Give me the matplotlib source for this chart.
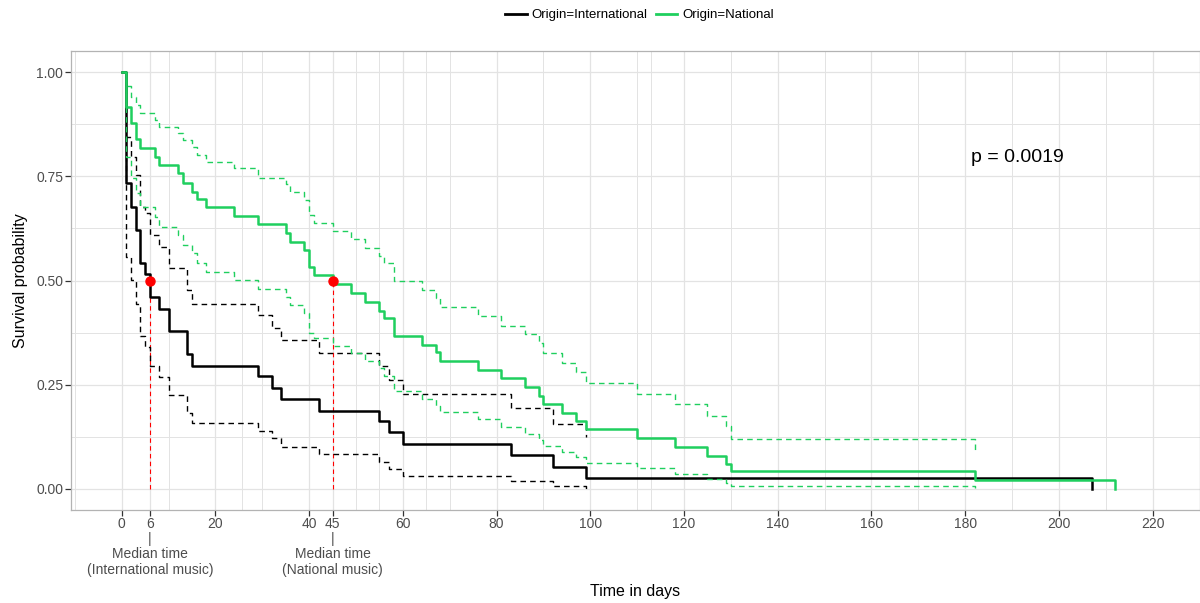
import matplotlib
matplotlib.use("Agg")
import matplotlib.pyplot as plt
from matplotlib.lines import Line2D

plt.rcParams['font.family'] = ['Liberation Sans', 'DejaVu Sans']

# ---------------- data ----------------
# International music
int_time = [0, 1, 2, 3, 4, 5, 6, 8, 10, 14, 15, 29, 32, 34, 42, 55, 57, 60, 83, 92, 99, 207]
int_surv = [1.0, 0.733, 0.677, 0.621, 0.541, 0.515, 0.461, 0.431, 0.379, 0.324, 0.295,
            0.272, 0.243, 0.216, 0.188, 0.164, 0.136, 0.108, 0.081, 0.052, 0.027, 0.0]
int_ci_time = [0, 1, 2, 3, 4, 5, 6, 8, 10, 14, 15, 29, 32, 34, 42, 55, 57, 60, 83, 92, 99]
int_upper = [1.0, 0.843, 0.797, 0.753, 0.677, 0.661, 0.609, 0.581, 0.529, 0.477, 0.444,
             0.417, 0.387, 0.357, 0.325, 0.295, 0.261, 0.228, 0.195, 0.156, 0.124]
int_lower = [1.0, 0.557, 0.501, 0.444, 0.367, 0.341, 0.295, 0.269, 0.225, 0.183, 0.159,
             0.140, 0.122, 0.101, 0.083, 0.065, 0.048, 0.032, 0.018, 0.006, 0.0]

# National music
nat_time = [0, 1, 2, 3, 4, 7, 8, 12, 13, 15, 16, 18, 24, 29, 35, 36, 39, 40, 41, 45, 49, 52,
            55, 56, 58, 64, 67, 68, 76, 81, 86, 89, 90, 94, 97, 99, 110, 118, 125, 129, 130,
            182, 212]
nat_surv = [1.0, 0.917, 0.877, 0.839, 0.817, 0.797, 0.777, 0.757, 0.735, 0.713, 0.695, 0.676,
            0.655, 0.635, 0.613, 0.593, 0.573, 0.533, 0.513, 0.491, 0.469, 0.448, 0.428, 0.409,
            0.368, 0.345, 0.328, 0.307, 0.285, 0.265, 0.244, 0.224, 0.204, 0.183, 0.164, 0.143,
            0.122, 0.101, 0.080, 0.060, 0.042, 0.021, 0.0]
nat_ci_time = [0, 1, 2, 3, 4, 7, 8, 12, 13, 15, 16, 18, 24, 29, 35, 36, 39, 40, 41, 45, 49, 52,
               55, 56, 58, 64, 67, 68, 76, 81, 86, 89, 90, 94, 97, 99, 110, 118, 125, 129, 130,
               182]
nat_upper = [1.0, 0.966, 0.941, 0.920, 0.902, 0.885, 0.867, 0.853, 0.837, 0.819, 0.801, 0.785,
             0.769, 0.747, 0.731, 0.713, 0.693, 0.657, 0.639, 0.619, 0.599, 0.579, 0.559, 0.541,
             0.500, 0.477, 0.458, 0.437, 0.415, 0.392, 0.371, 0.349, 0.325, 0.303, 0.281, 0.253,
             0.228, 0.204, 0.176, 0.151, 0.121, 0.094]
nat_lower = [1.0, 0.797, 0.745, 0.709, 0.677, 0.653, 0.629, 0.609, 0.585, 0.565, 0.541, 0.521,
             0.501, 0.480, 0.461, 0.441, 0.421, 0.373, 0.361, 0.344, 0.325, 0.308, 0.289, 0.270,
             0.236, 0.217, 0.200, 0.184, 0.167, 0.149, 0.133, 0.117, 0.103, 0.089, 0.077, 0.062,
             0.050, 0.035, 0.024, 0.015, 0.007, 0.002]

median_times = [6, 45]
median_surv = [0.5, 0.5]
median_labels = ["Median time\n(International music)", "Median time\n(National music)"]

x_ticks = [0, 6, 20, 40, 45, 60, 80, 100, 120, 140, 160, 180, 200, 220]
x_ticklabels = ["0", "6", "20", "40", "45", "60", "80", "100", "120", "140",
                "160", "180", "200", "220"]
x_minor = [-10, 10, 25.6, 30, 50, 55, 65, 70, 90, 110, 113, 130, 150, 170, 190, 210]
y_ticks = [0.0, 0.25, 0.5, 0.75, 1.0]
y_ticklabels = ["0.00", "0.25", "0.50", "0.75", "1.00"]
y_minor = [0.125, 0.375, 0.625, 0.875]

series_names = ["Origin=International", "Origin=National"]
pval_text = "p = 0.0019"

# ---------------- styles ----------------
col_int = "#000000"
col_nat = "#1FCF5E"
grid_col = "#E3E3E3"
tick_col = "#4D4D4D"

FIG_H = 603.0
fig = plt.figure(figsize=(12, 6.03), dpi=100)
ax_bottom_px = 509.85
ax = fig.add_axes([71 / 1200, 1 - ax_bottom_px / FIG_H, (1200 - 71) / 1200, 458.7 / FIG_H])
ax.set_xlim(-10.82, 230.1)
ax.set_ylim(-0.05, 1.05)

# grid
for x in x_ticks:
    ax.axvline(x, color=grid_col, lw=0.9, zorder=0)
for x in x_minor:
    ax.axvline(x, color=grid_col, lw=0.7, zorder=0)
for y in y_ticks:
    ax.axhline(y, color=grid_col, lw=0.9, zorder=0)
for y in y_minor:
    ax.axhline(y, color=grid_col, lw=0.7, zorder=0)

# median reference lines
for mt, ms in zip(median_times, median_surv):
    ax.plot([mt, mt], [0, ms], color="red", lw=0.8, ls=(0, (4, 3)), zorder=2)

# curves: black first, green on top
dash = (0, (4, 3))
ax.step(int_ci_time, int_upper, where="post", color=col_int, lw=1.0, ls=dash, zorder=3)
ax.step(int_ci_time, int_lower, where="post", color=col_int, lw=1.0, ls=dash, zorder=3)
ax.step(int_time, int_surv, where="post", color=col_int, lw=1.8, zorder=4)

ax.step(nat_ci_time, nat_upper, where="post", color=col_nat, lw=1.0, ls=dash, zorder=5)
ax.step(nat_ci_time, nat_lower, where="post", color=col_nat, lw=1.0, ls=dash, zorder=5)
ax.step(nat_time, nat_surv, where="post", color=col_nat, lw=1.8, zorder=6)

ax.plot(median_times, median_surv, "o", color="red", ms=6.5, zorder=7)

ax.text(191.2, 0.794, pval_text, fontsize=14, ha="center", va="center", color="black")

# axes styling
for sp in ax.spines.values():
    sp.set_color("#B3B3B3")
    sp.set_linewidth(0.9)

ax.set_xticks(x_ticks)
ax.set_xticklabels(x_ticklabels, fontsize=10, color=tick_col)
ax.set_yticks(y_ticks)
ax.set_yticklabels(y_ticklabels, fontsize=10, color=tick_col)
ax.tick_params(axis="both", length=4, width=0.9, color="#333333", pad=1.5)

# median annotations under the tick labels
xt = ax.get_xaxis_transform()
bar_y = (ax_bottom_px - 539.5) / 458.7
lab_y = (ax_bottom_px - 547.5) / 458.7
for mt, lab in zip(median_times, median_labels):
    ax.text(mt, bar_y, "|", transform=xt, ha="center", va="center",
            fontsize=10, color=tick_col, clip_on=False)
    ax.text(mt, lab_y, lab, transform=xt, ha="center", va="top",
            fontsize=10, color=tick_col, linespacing=1.12, clip_on=False)

ax.set_xlabel("Time in days", fontsize=11.5, labelpad=38)
ax.set_ylabel("Survival probability", fontsize=11.5, labelpad=6)

handles = [Line2D([], [], color=col_int, lw=2.0), Line2D([], [], color=col_nat, lw=2.0)]
fig.legend(handles, series_names, loc="center", bbox_to_anchor=(0.533, 0.975), ncol=2,
           frameon=False, fontsize=9.5, handlelength=1.6, handletextpad=0.4, columnspacing=0.6)

fig.savefig("out.png", dpi=100)
